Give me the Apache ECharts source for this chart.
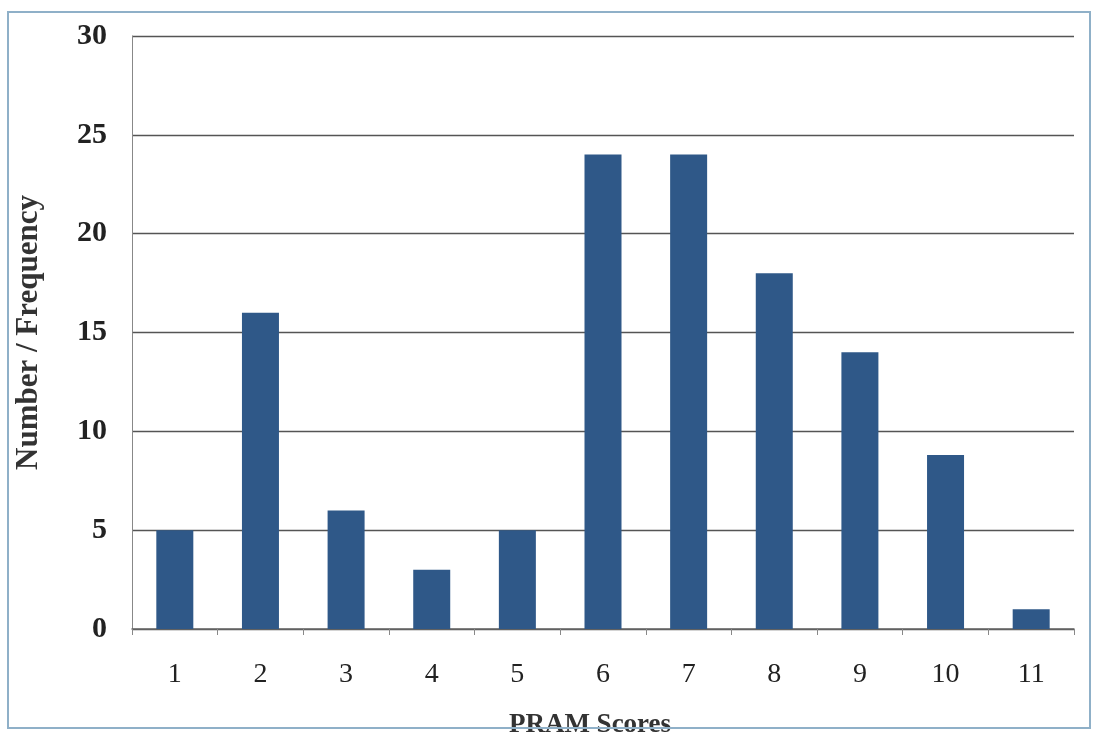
<!DOCTYPE html>
<html>
<head>
<meta charset="utf-8">
<script src="https://cdn.jsdelivr.net/npm/echarts@6/dist/echarts.min.js"></script>
<style>
html,body{margin:0;padding:0;background:#fff;}
#chart{width:1094px;height:733px;}
</style>
</head>
<body>
<div id="chart"></div>
<script>
const categories = ['1','2','3','4','5','6','7','8','9','10','11'];
const frequency = [5, 16, 6, 3, 5, 24, 24, 18, 14, 8.8, 1];
const yTicks = [0, 5, 10, 15, 20, 25, 30];

const chart = echarts.init(document.getElementById('chart'));
const serif = '"Liberation Serif", "DejaVu Serif", serif';
chart.setOption({
  backgroundColor: '#ffffff',
  animation: false,
  graphic: [{
    type: 'rect',
    z: 100,
    shape: {x: 8, y: 12, width: 1082, height: 716},
    style: {fill: 'none', stroke: '#8fb0c8', lineWidth: 2},
    silent: true
  }],
  grid: {left: 132, right: 20, top: 36, bottom: 104, outerBoundsMode: 'none', containLabel: false},
  xAxis: {
    type: 'category',
    data: categories,
    boundaryGap: true,
    name: 'PRAM Scores',
    nameLocation: 'middle',
    nameGap: 83,
    nameTextStyle: {fontFamily: serif, fontSize: 27, fontWeight: 'bold', color: '#333', padding: [0, 26, 0, 0]},
    axisLine: {show: true, lineStyle: {color: '#666', width: 1.5}},
    axisTick: {show: true, alignWithLabel: false, length: 6, lineStyle: {color: '#888'}},
    axisLabel: {fontFamily: serif, fontSize: 28, color: '#222', margin: 32}
  },
  yAxis: {
    type: 'value',
    min: 0, max: 30, interval: 5,
    name: 'Number / Frequency',
    nameLocation: 'middle',
    nameGap: 88,
    nameTextStyle: {fontFamily: serif, fontSize: 31, fontWeight: 'bold', color: '#333'},
    axisLine: {show: true, lineStyle: {color: '#888', width: 1}},
    axisTick: {show: false},
    axisLabel: {fontFamily: serif, fontSize: 30, fontWeight: 'bold', color: '#222', margin: 25,
      formatter: v => yTicks.includes(v) ? String(v) : ''},
    splitLine: {show: true, lineStyle: {color: '#555', width: 1.3}}
  },
  series: [{
    type: 'bar',
    data: frequency,
    barWidth: 37,
    itemStyle: {color: '#2f5888'}
  }]
});
</script>
</body>
</html>
